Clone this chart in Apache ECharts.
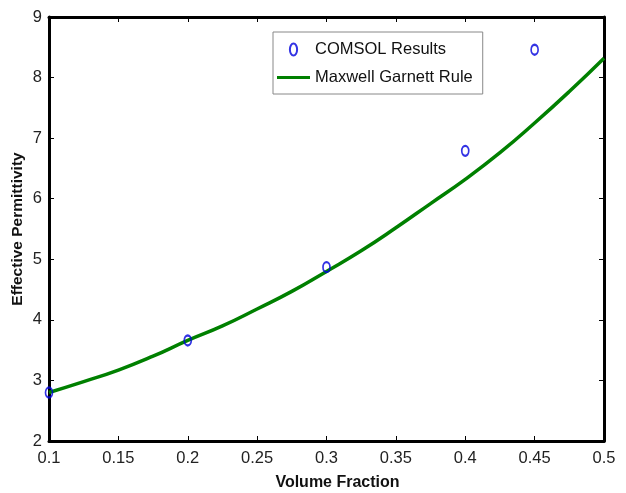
<!DOCTYPE html>
<html>
<head>
<meta charset="utf-8">
<script src="https://cdn.jsdelivr.net/npm/echarts@6/dist/echarts.min.js"></script>
<style>
html,body{margin:0;padding:0;background:#fff;}
#chart{width:626px;height:493px;}
</style>
</head>
<body>
<div id="chart"></div>
<script>
// COMSOL simulation results
const comsolX = [0.1, 0.2, 0.3, 0.4, 0.45];
const comsolY = [2.80, 3.66, 4.87, 6.79, 8.46];
// Maxwell Garnett rule curve
const mgX = [0.1, 0.125, 0.15, 0.175, 0.2, 0.225, 0.25, 0.275, 0.3, 0.325, 0.35, 0.375, 0.4, 0.425, 0.45, 0.475, 0.5];
const mgY = [2.80, 2.98, 3.17, 3.40, 3.66, 3.90, 4.18, 4.47, 4.80, 5.14, 5.52, 5.92, 6.32, 6.76, 7.25, 7.77, 8.32];
const xTicks = [0.1, 0.15, 0.2, 0.25, 0.3, 0.35, 0.4, 0.45, 0.5];
const yTicks = [2, 3, 4, 5, 6, 7, 8, 9];

const ellipse = 'path://M0,5 A3,5 0 1,1 6,5 A3,5 0 1,1 0,5 Z';
const lineIcon = 'path://M0,0 L110,0 L110,10 L0,10 Z';
const font = 'Liberation Sans, Arial, sans-serif';

const chart = echarts.init(document.getElementById('chart'), null, {renderer: 'canvas'});
const axisCommon = {
  axisLine: {show: true, onZero: false, lineStyle: {color: '#000', width: 3}},
  axisTick: {show: true, inside: true, length: 5, lineStyle: {color: '#000', width: 1}},
  splitLine: {show: false}
};
chart.setOption({
  animation: false,
  backgroundColor: '#fff',
  grid: {left: 49, top: 17, right: 22, bottom: 52, containLabel: false, outerBoundsMode: 'none'},
  legend: {
    orient: 'vertical',
    left: 273, top: 32,
    width: 210,
    padding: [9, 10, 8, 4],
    itemGap: 11,
    itemWidth: 33, itemHeight: 12,
    backgroundColor: '#fff',
    borderColor: '#888', borderWidth: 1,
    textStyle: {fontFamily: font, fontSize: 16.5, color: '#111'},
    data: [
      {name: 'COMSOL Results'},
      {name: 'Maxwell Garnett Rule', icon: lineIcon, itemStyle: {color: '#008000', borderWidth: 0}}
    ]
  },
  xAxis: [
    Object.assign({
      type: 'value', min: 0.1, max: 0.5, interval: 0.05, position: 'bottom',
      axisLabel: {fontFamily: font, fontSize: 16.5, color: '#222', margin: 9,
        formatter: v => String(parseFloat(v.toFixed(2)))},
      name: 'Volume Fraction', nameLocation: 'middle', nameGap: 34,
      nameTextStyle: {fontFamily: font, fontSize: 16, fontWeight: 'bold', color: '#111', padding: [0, 0, 0, 22]}
    }, axisCommon),
    Object.assign({
      type: 'value', min: 0.1, max: 0.5, interval: 0.05, position: 'top',
      axisLabel: {show: false}
    }, axisCommon)
  ],
  yAxis: [
    Object.assign({
      type: 'value', min: 2, max: 9, interval: 1, position: 'left',
      axisLabel: {fontFamily: font, fontSize: 16.5, color: '#222', margin: 7},
      name: 'Effective Permittivity', nameLocation: 'middle', nameGap: 23, nameRotate: 90,
      nameMoveOverlap: false,
      nameTextStyle: {fontFamily: font, fontSize: 15.5, fontWeight: 'bold', color: '#111'}
    }, axisCommon),
    Object.assign({
      type: 'value', min: 2, max: 9, interval: 1, position: 'right',
      axisLabel: {show: false}
    }, axisCommon)
  ],
  series: [
    {
      name: 'Maxwell Garnett Rule', type: 'line', smooth: true,
      xAxisIndex: 0, yAxisIndex: 0,
      data: mgX.map((x, i) => [x, mgY[i]]),
      showSymbol: false, symbol: 'none',
      lineStyle: {color: '#008000', width: 3.5},
      itemStyle: {color: '#008000'},
      z: 2
    },
    {
      name: 'COMSOL Results', type: 'scatter',
      xAxisIndex: 0, yAxisIndex: 0,
      data: comsolX.map((x, i) => [x, comsolY[i]]),
      symbol: ellipse, symbolSize: [7, 10],
      itemStyle: {color: 'rgba(0,0,0,0)', borderColor: '#0000dd', borderWidth: 2},
      clip: false,
      z: 3
    }
  ]
});
</script>
</body>
</html>
